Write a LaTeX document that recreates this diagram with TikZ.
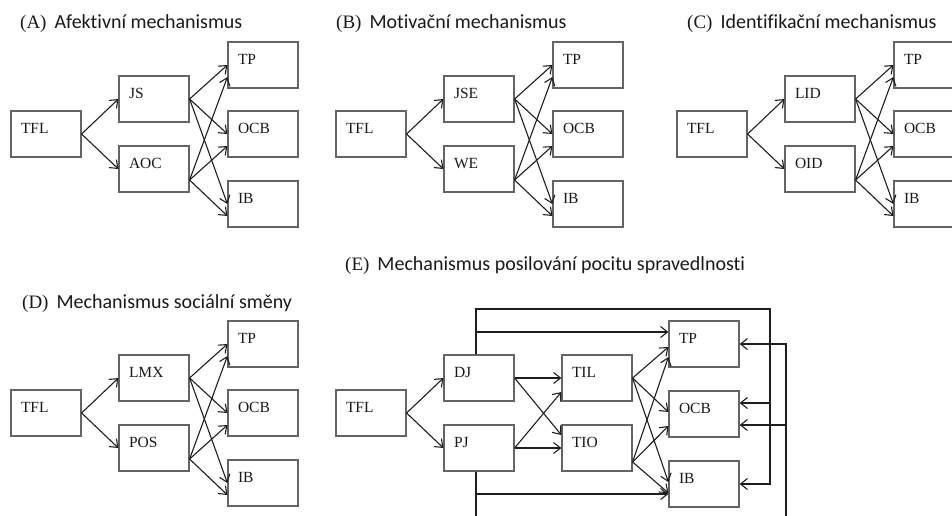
\documentclass[tikz,border=0pt]{standalone}
\usepackage{fontspec}
\setmainfont{Liberation Serif}
\newfontfamily\mechfont[Ligatures=NoCommon]{Carlito}
\usepackage{tikz}
\usetikzlibrary{arrows.meta}
\definecolor{boxgrey}{RGB}{100,100,100}
\definecolor{linegrey}{RGB}{30,30,30}
\definecolor{inkgrey}{RGB}{25,25,25}
\tikzset{
  box/.style={rectangle, draw=boxgrey, line width=1.2pt, text width=50pt,
              inner xsep=10pt, inner ysep=0pt, text height=22pt, text depth=24pt,
              align=left, text=inkgrey, font=\fontsize{15.5pt}{18pt}\selectfont},
  arrow/.style={-{Straight Barb[length=7pt,width=11pt]}, line width=1.1pt, color=linegrey},
  heading/.style={anchor=base west, inner sep=0pt, text=inkgrey,
                  font=\fontsize{19pt}{22pt}\selectfont},
}

\begin{document}
\begin{tikzpicture}[x=1pt, y=-1pt]
          \clip (0,0) rectangle (952,515);
          % panel titles
          \foreach \p/\x/\y/\t in {A/20/28/Afektivní mechanismus, B/336/28/Motivační mechanismus,
                                   C/687/28/Identifikační mechanismus, D/22/308/Mechanismus sociální směny,
                                   E/345/270/Mechanismus posilování pocitu spravedlnosti}{
            \node[heading] (ttl\p) at (\x,\y) {(\p)\hspace{8pt}{\mechfont\fontsize{20pt}{24pt}\selectfont\t}};
          }
          % panels A--D: TFL -> two mediators -> TP, OCB, IB
          \foreach \p/\dx/\dy/\ma/\mb in {A/0/0/JS/AOC, B/325/0/JSE/WE, C/666/0/LID/OID, D/0/279/LMX/POS}{
            \begin{scope}[shift={(\dx,\dy)}]
              \node[box] (tfl\p) at (46,134) {TFL};
              \node[box] (up\p) at (154,99) {\ma};
              \node[box] (low\p) at (154,169) {\mb};
              \node[box] (tp\p) at (263,65) {TP};
              \node[box] (ocb\p) at (263,134) {OCB};
              \node[box] (ib\p) at (263,204) {IB};
              \draw[arrow] (tfl\p.east) -- (up\p.west);
              \draw[arrow] (tfl\p.east) -- (low\p.west);
              \foreach \o in {tp,ocb,ib}{
                \draw[arrow] (up\p.east) -- (\o\p.west);
                \draw[arrow] ([yshift=-11pt]low\p.east) -- ([yshift=-12pt]\o\p.west);
              }
            \end{scope}
          }
          % panel E
          \node[box] (tflE) at (371,413) {TFL};
          \node[box] (dj) at (479,378) {DJ};
          \node[box] (pj) at (479,448) {PJ};
          \node[box] (til) at (597,378) {TIL};
          \node[box] (tio) at (597,448) {TIO};
          \node[box] (tpE) at (704,344) {TP};
          \node[box] (ocbE) at (704,414) {OCB};
          \node[box] (ibE) at (704,484) {IB};
          \draw[arrow] (tflE.east) -- (dj.west);
          \draw[arrow] (tflE.east) -- (pj.west);
          \draw[arrow] (dj.east) -- (til.west);
          \draw[arrow] (dj.east) -- ([yshift=13pt]tio.west);
          \draw[arrow] (pj.east) -- (tio.west);
          \draw[arrow] (pj.east) -- ([yshift=-14pt]til.west);
          \foreach \o/\s in {tpE/-3, ocbE/2, ibE/2}{
            \draw[arrow] (til.east) -- ([yshift=\s pt]\o.west);
          }
          \foreach \o/\s in {tpE/-13, ocbE/-12, ibE/-9}{
            \draw[arrow] ([yshift=-14pt]tio.east) -- ([yshift=\s pt]\o.west);
          }
          % direct paths around the mediators
          \coordinate (loopT) at (770,309);
          \coordinate (loopB) at (786,522);
          \coordinate (tpIn) at ([yshift=12pt]tpE.west);
          \coordinate (ocbHi) at ([yshift=11pt]ocbE.east);
          \coordinate (ocbLo) at ([yshift=-11pt]ocbE.east);
          \coordinate (ibIn) at ([yshift=-10pt]ibE.west);
          \draw[arrow] ([xshift=-3pt]dj.north) |- (loopT) |- (ibE.east);
          \draw[arrow] ([xshift=-3pt]dj.north |- tpIn) -- (tpIn);
          \draw[arrow] (loopT |- ocbHi) -- (ocbHi);
          \draw[arrow] ([xshift=-3pt]pj.south) |- (loopB) |- (tpE.east);
          \draw[arrow] (loopB |- ocbLo) -- (ocbLo);
          \draw[arrow] ([xshift=-3pt]pj.south |- ibIn) -- (ibIn);
        \end{tikzpicture}
\end{document}
